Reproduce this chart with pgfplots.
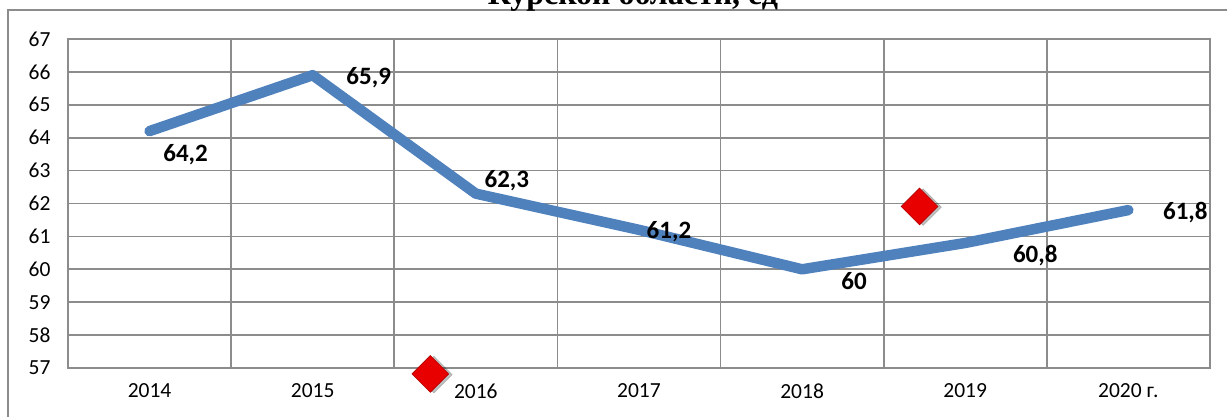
\documentclass[border=0pt]{standalone}
\usepackage{fontspec}
\setmainfont{Carlito}
\newfontfamily\titlefont{Liberation Serif}
\usepackage{pgfplots}
\pgfplotsset{compat=1.18}
\definecolor{lineblue}{HTML}{4F81BD}
\definecolor{gridgray}{HTML}{8C8C8C}
\definecolor{dred}{HTML}{E80000}
\begin{document}
\begin{tikzpicture}
\begin{axis}[
 at={(0,0)}, anchor=south west,
 scale only axis, width=1142pt, height=329pt,
 xmin=-0.5, xmax=6.5, ymin=57, ymax=67,
 xtick={0,1,2,3,4,5,6},
 xticklabels={2014,2015,2016,2017,2018,2019,2020 г.},
 minor xtick={0.5,1.5,2.5,3.5,4.5,5.5},
 ytick={57,58,59,60,61,62,63,64,65,66,67},
 ymajorgrids, xminorgrids,
 major tick length=0pt, minor tick length=0pt,
 axis line style={gridgray, line width=1.7pt},
 grid style={gridgray, line width=1.7pt},
 minor grid style={gridgray, line width=1.7pt},
 tick label style={font=\fontsize{21.5}{25}\selectfont},
 xticklabel style={yshift=-12pt},
 yticklabel style={xshift=-14pt},
 /pgf/number format/assume math mode=true,
 clip=false,
]
\addplot[lineblue, line width=10.5pt, line cap=round, line join=round, mark=none]
 coordinates {(0,64.2)(1,65.9)(2,62.3)(3,61.2)(4,60)(5,60.8)(6,61.8)};
\addplot[only marks, mark=square*, mark size=13pt,
 mark options={rotate=45, fill=black, draw=none, opacity=0.25, xshift=2pt, yshift=-3pt}]
 coordinates {(1.721,56.82)(4.72,61.91)};
\addplot[only marks, mark=square*, mark size=13pt,
 mark options={rotate=45, fill=dred, draw=dred!75!black, line width=0.6pt}]
 coordinates {(1.721,56.82)(4.72,61.91)};
\begin{scope}[every node/.style={font=\fontsize{25}{30}\selectfont\bfseries, anchor=center, inner sep=0pt}]
\node[xshift=36pt, yshift=-24pt] at (axis cs:0,64.2) {64,2};
\node[xshift=56pt, yshift=-2pt] at (axis cs:1,65.9) {65,9};
\node[xshift=31pt, yshift=13pt] at (axis cs:2,62.3) {62,3};
\node[xshift=30pt, yshift=-2pt] at (axis cs:3,61.2) {61,2};
\node[xshift=52pt, yshift=-12pt] at (axis cs:4,60) {60};
\node[xshift=70pt, yshift=-13pt] at (axis cs:5,60.8) {60,8};
\node[xshift=57pt, yshift=-2pt] at (axis cs:6,61.8) {61,8};
\end{scope}
\end{axis}
\draw[gridgray, line width=1.7pt] (-60pt,-90pt) rectangle (1180pt,358pt);
\node[font=\titlefont\bfseries\fontsize{32}{38}\selectfont, anchor=base] at (565pt,363pt) {Курской области, ед};
\pgfresetboundingbox
\useasboundingbox (-68pt,-49pt) rectangle (1159pt,368pt);
\end{tikzpicture}
\end{document}
